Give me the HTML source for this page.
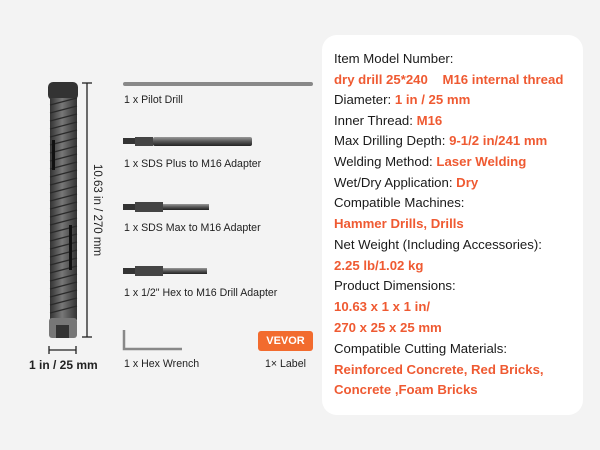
<!DOCTYPE html>
<html><head><style>
body{margin:0;width:600px;height:450px;background:#f3f3f3;font-family:"Liberation Sans",sans-serif;position:relative;overflow:hidden}
.a{position:absolute;white-space:nowrap}
.lab{font-size:10.6px;color:#222}
.card{position:absolute;left:322px;top:35px;width:261px;height:380px;background:#fff;border-radius:15px}
.ln{position:absolute;left:334px;font-size:13.2px;color:#1a1a1a;white-space:nowrap}
.o{color:#ef5a32;font-weight:bold}
</style></head><body>
<svg class="a" style="left:0;top:0" width="320" height="450">
<defs><linearGradient id="g" x1="0" x2="1"><stop offset="0" stop-color="#333"/><stop offset="0.45" stop-color="#777"/><stop offset="1" stop-color="#333"/></linearGradient>
<linearGradient id="h" x1="0" y1="0" x2="0" y2="1"><stop offset="0" stop-color="#999"/><stop offset="0.5" stop-color="#555"/><stop offset="1" stop-color="#222"/></linearGradient></defs>
<rect x="48" y="82" width="30" height="18" rx="5" fill="#333"/>
<rect x="50" y="98" width="27" height="222" fill="url(#g)"/>
<g stroke="#2a2a2a" stroke-width="1.2">
<line x1="50" y1="105" x2="77" y2="98"/><line x1="50" y1="113" x2="77" y2="106"/><line x1="50" y1="121" x2="77" y2="114"/><line x1="50" y1="129" x2="77" y2="122"/><line x1="50" y1="137" x2="77" y2="130"/><line x1="50" y1="145" x2="77" y2="138"/><line x1="50" y1="153" x2="77" y2="146"/><line x1="50" y1="161" x2="77" y2="154"/><line x1="50" y1="169" x2="77" y2="162"/><line x1="50" y1="177" x2="77" y2="170"/><line x1="50" y1="185" x2="77" y2="178"/><line x1="50" y1="193" x2="77" y2="186"/><line x1="50" y1="201" x2="77" y2="194"/><line x1="50" y1="209" x2="77" y2="202"/><line x1="50" y1="217" x2="77" y2="210"/><line x1="50" y1="225" x2="77" y2="218"/><line x1="50" y1="233" x2="77" y2="226"/><line x1="50" y1="241" x2="77" y2="234"/><line x1="50" y1="249" x2="77" y2="242"/><line x1="50" y1="257" x2="77" y2="250"/><line x1="50" y1="265" x2="77" y2="258"/><line x1="50" y1="273" x2="77" y2="266"/><line x1="50" y1="281" x2="77" y2="274"/><line x1="50" y1="289" x2="77" y2="282"/><line x1="50" y1="297" x2="77" y2="290"/><line x1="50" y1="305" x2="77" y2="298"/><line x1="50" y1="313" x2="77" y2="306"/>
</g>
<rect x="52" y="140" width="3" height="30" fill="#111"/><rect x="69" y="225" width="3" height="45" fill="#111"/>
<rect x="49" y="318" width="28" height="20" rx="3" fill="#777"/>
<rect x="56" y="325" width="13" height="13" fill="#333"/>
<g stroke="#222" stroke-width="1.3"><line x1="87" y1="83" x2="87" y2="337"/><line x1="82" y1="83" x2="92" y2="83"/><line x1="82" y1="337" x2="92" y2="337"/>
<line x1="49" y1="350" x2="76" y2="350"/><line x1="49" y1="346" x2="49" y2="354"/><line x1="76" y1="346" x2="76" y2="354"/></g>
<rect x="123" y="82" width="190" height="4" rx="2" fill="#888"/>
<rect x="123" y="138" width="12" height="6" fill="#333"/><rect x="135" y="137" width="18" height="9" fill="#444"/><rect x="153" y="137" width="99" height="9" rx="2" fill="url(#h)"/>
<rect x="123" y="204" width="12" height="6" fill="#333"/><rect x="135" y="202" width="28" height="10" fill="#444"/><rect x="163" y="204" width="46" height="6" fill="url(#h)"/>
<rect x="123" y="268" width="12" height="6" fill="#333"/><rect x="135" y="266" width="28" height="10" fill="#444"/><rect x="163" y="268" width="44" height="6" fill="url(#h)"/>
<path d="M124 330 V349 H182" stroke="#888" stroke-width="2.5" fill="none"/>
<rect x="258" y="331" width="55" height="20" rx="3" fill="#f26b2e"/>
</svg>
<div class="a" style="top:210px;font-size:11.5px;color:#222;transform:translate(-50%,-50%) rotate(90deg);left:97px">10.63 in / 270 mm</div>
<div class="a" style="left:29px;top:358px;font-size:12px;font-weight:bold;color:#222">1 in / 25 mm</div>
<div class="a lab" style="left:124px;top:94px">1 x Pilot Drill</div>
<div class="a lab" style="left:124px;top:158px">1 x SDS Plus to M16 Adapter</div>
<div class="a lab" style="left:124px;top:222px">1 x SDS Max to M16 Adapter</div>
<div class="a lab" style="left:124px;top:287px">1 x 1/2" Hex to M16 Drill Adapter</div>
<div class="a lab" style="left:124px;top:358px">1 x Hex Wrench</div>
<div class="a lab" style="left:265px;top:358px">1× Label</div>
<div class="a" style="left:258px;top:335px;width:55px;text-align:center;color:#fff;font-weight:bold;font-size:11px">VEVOR</div>
<div class="card"></div>
<div class="ln" style="top:51px">Item Model Number:</div>
<div class="ln o" style="top:72px">dry drill 25*240&nbsp;&nbsp;&nbsp; M16 internal thread</div>
<div class="ln" style="top:92px">Diameter: <span class="o">1 in / 25 mm</span></div>
<div class="ln" style="top:113px">Inner Thread: <span class="o">M16</span></div>
<div class="ln" style="top:133px">Max Drilling Depth: <span class="o">9-1/2 in/241 mm</span></div>
<div class="ln" style="top:154px">Welding Method: <span class="o">Laser Welding</span></div>
<div class="ln" style="top:175px">Wet/Dry Application: <span class="o">Dry</span></div>
<div class="ln" style="top:195px">Compatible Machines:</div>
<div class="ln o" style="top:216px">Hammer Drills, Drills</div>
<div class="ln" style="top:237px">Net Weight (Including Accessories):</div>
<div class="ln o" style="top:258px">2.25 lb/1.02 kg</div>
<div class="ln" style="top:278px">Product Dimensions:</div>
<div class="ln o" style="top:299px">10.63 x 1 x 1 in/</div>
<div class="ln o" style="top:320px">270 x 25 x 25 mm</div>
<div class="ln" style="top:341px">Compatible Cutting Materials:</div>
<div class="ln o" style="top:362px">Reinforced Concrete, Red Bricks,</div>
<div class="ln o" style="top:382px">Concrete ,Foam Bricks</div>
</body></html>
